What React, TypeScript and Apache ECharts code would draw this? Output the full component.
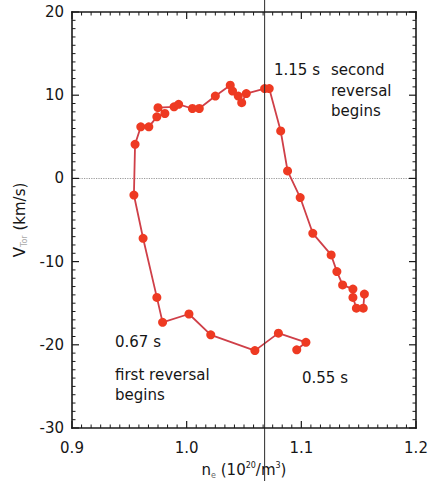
import React, { useEffect, useRef } from "react";
import * as echarts from "echarts";

// Electron density n_e (10^20/m^3), in time order starting at 0.55 s
const densityValues = [
  1.096, 1.104, 1.08, 1.0595, 1.021, 1.002, 0.979, 0.974, 0.962, 0.954,
  0.955, 0.96, 0.967, 0.974, 0.981, 0.975, 0.989, 0.993, 1.005, 1.011,
  1.025, 1.038, 1.04, 1.045, 1.048, 1.052, 1.068, 1.072, 1.082, 1.088,
  1.099, 1.11, 1.126, 1.131, 1.136, 1.145, 1.145, 1.148, 1.154, 1.155,
];
// Toroidal velocity V_Tor (km/s)
const velocityValues = [
  -20.6, -19.7, -18.6, -20.7, -18.8, -16.3, -17.3, -14.3, -7.2, -2.0,
  4.1, 6.2, 6.2, 7.4, 7.8, 8.5, 8.6, 8.9, 8.4, 8.4,
  9.9, 11.2, 10.5, 9.9, 9.1, 10.2, 10.8, 10.8, 5.7, 0.9,
  -2.3, -6.6, -9.2, -11.2, -12.8, -13.3, -14.3, -15.6, -15.6, -13.9,
];
const xTicks = [0.9, 1.0, 1.1, 1.2];
const yTicks = [-30, -20, -10, 0, 10, 20];
const xMinorSplit = 12;
const yMinorSplit = 10;
const reversalDensity = 1.068;

const FONT = "DejaVu Sans";
const TXT = "#161616";
const INK = "#1a1a1a";

function makeAxis(kind: "x" | "y", position: string, withLabels: boolean) {
  const ticks = kind === "x" ? xTicks : yTicks;
  const axis: any = {
    type: "value",
    position,
    min: ticks[0],
    max: ticks[ticks.length - 1],
    interval: kind === "x" ? 0.1 : 10,
    axisLine: { show: false, onZero: false },
    axisTick: { show: false },
    minorTick: { show: false },
    splitLine: { show: false },
    minorSplitLine: { show: false },
    axisLabel: { show: false },
  };
  if (withLabels) {
    axis.axisLabel = {
      show: true,
      margin: kind === "x" ? 12 : 8,
      fontSize: 15,
      fontFamily: FONT,
      color: TXT,
      formatter: kind === "x" ? (v: number) => v.toFixed(1) : (v: number) => String(v),
    };
  }
  return axis;
}

export default function App() {
  const ref = useRef<HTMLDivElement>(null);
  useEffect(() => {
    document.body.style.margin = "0";
    if (!ref.current) return;
    const chart = echarts.init(ref.current, null, { renderer: "svg" });
    const data = densityValues.map((x, i) => [x, velocityValues[i]]);
    const xMin = xTicks[0];
    const xMax = xTicks[xTicks.length - 1];
    const yMin = yTicks[0];
    const yMax = yTicks[yTicks.length - 1];

    const xBottom = makeAxis("x", "bottom", true);
    xBottom.name = "{n|n}{sub|e}{n| (10}{sup|20}{n|/m}{sup|3}{n|)}";
    xBottom.nameLocation = "middle";
    xBottom.nameGap = 33;
    xBottom.nameTextStyle = {
      rich: {
        n: { fontSize: 15, fontFamily: FONT, color: TXT, lineHeight: 18 },
        sub: { fontSize: 8, fontFamily: FONT, color: "#666", verticalAlign: "bottom", lineHeight: 12 },
        sup: { fontSize: 8, fontFamily: FONT, color: TXT, verticalAlign: "top", lineHeight: 12 },
      },
    };
    const yLeft = makeAxis("y", "left", true);
    yLeft.name = "{n|V}{sub|Tor}{n| (km/s)}";
    yLeft.nameLocation = "middle";
    yLeft.nameRotate = 90;
    yLeft.nameGap = 42;
    yLeft.nameTextStyle = {
      rich: {
        n: { fontSize: 15, fontFamily: FONT, color: TXT, lineHeight: 18 },
        sub: { fontSize: 8, fontFamily: FONT, color: "#aaa", verticalAlign: "bottom", lineHeight: 12 },
      },
    };

    chart.setOption({
      animation: false,
      backgroundColor: "#ffffff",
      grid: {
        left: 72,
        top: 12,
        width: 344,
        height: 416,
        containLabel: false,
        outerBoundsMode: "none",
      },
      xAxis: [xBottom, makeAxis("x", "top", false)],
      yAxis: [yLeft, makeAxis("y", "right", false)],
      series: [
        {
          type: "line",
          data,
          xAxisIndex: 0,
          yAxisIndex: 0,
          symbol: "circle",
          symbolSize: 9,
          itemStyle: { color: "#ee3a22", borderWidth: 0 },
          lineStyle: { color: "#cf3f48", width: 1.8 },
          z: 5,
          markLine: {
            silent: true,
            symbol: "none",
            label: { show: false },
            lineStyle: { color: "#9a9a9a", type: "dotted", width: 1.2 },
            data: [{ yAxis: 0 }],
            z: 1,
          },
        },
      ],
    });

    const toX = (v: number) => (chart.convertToPixel({ gridIndex: 0 }, [v, 0]) as number[])[0];
    const toY = (v: number) => (chart.convertToPixel({ gridIndex: 0 }, [xMin, v]) as number[])[1];
    const L = toX(xMin);
    const R = toX(xMax);
    const T = toY(yMax);
    const B = toY(yMin);

    const elements: any[] = [];
    // filled bars for frame and ticks
    const bar = (x: number, y: number, w: number, h: number) =>
      elements.push({
        type: "rect",
        shape: { x, y, width: w, height: h },
        style: { fill: INK, stroke: null, lineWidth: 0 },
        z: 100,
        zlevel: 1,
        silent: true,
      });
    const fw = 1.6;
    bar(L - fw / 2, T - fw / 2, fw, B - T + fw); // left
    bar(R - fw / 2, T - fw / 2, fw, B - T + fw); // right
    bar(L - fw / 2, T - fw / 2, R - L + fw, fw); // top
    bar(L - fw / 2, B - fw / 2, R - L + fw, fw); // bottom
    for (let i = 0; i < xTicks.length; i++) {
      const px = toX(xTicks[i]);
      bar(px - 0.6, B - 7, 1.2, 7);
      bar(px - 0.6, T, 1.2, 7);
      if (i < xTicks.length - 1) {
        const step = (xTicks[i + 1] - xTicks[i]) / xMinorSplit;
        for (let k = 1; k < xMinorSplit; k++) {
          const mx = toX(xTicks[i] + k * step);
          bar(mx - 0.5, B - 3.5, 1, 3.5);
          bar(mx - 0.5, T, 1, 3.5);
        }
      }
    }
    for (let i = 0; i < yTicks.length; i++) {
      const py = toY(yTicks[i]);
      bar(L, py - 0.6, 7, 1.2);
      bar(R - 7, py - 0.6, 7, 1.2);
      if (i < yTicks.length - 1) {
        const step = (yTicks[i + 1] - yTicks[i]) / yMinorSplit;
        for (let k = 1; k < yMinorSplit; k++) {
          const my = toY(yTicks[i] + k * step);
          bar(L, my - 0.5, 3.5, 1);
          bar(R - 3.5, my - 0.5, 3.5, 1);
        }
      }
    }
    const rx = toX(reversalDensity);
    elements.push({
      type: "line",
      shape: { x1: rx, y1: 0, x2: rx, y2: 481 },
      style: { stroke: "#2a2a2a", lineWidth: 1 },
      z: 10,
    });
    const textEl = (text: string, x: number, y: number) => ({
      type: "text",
      x,
      y,
      z: 20,
      style: {
        text,
        fill: TXT,
        fontSize: 15,
        fontFamily: FONT,
        align: "left",
        verticalAlign: "middle",
      },
    });
    elements.push(
      textEl("1.15 s", 274, 70),
      textEl("second", 331, 70),
      textEl("reversal", 331, 91),
      textEl("begins", 331, 111),
      textEl("0.67 s", 115, 342),
      textEl("first reversal", 115, 375),
      textEl("begins", 115, 395),
      textEl("0.55 s", 302, 378)
    );
    chart.setOption({ graphic: elements });
    return () => chart.dispose();
  }, []);
  return <div ref={ref} style={{ width: 429, height: 481 }} />;
}
